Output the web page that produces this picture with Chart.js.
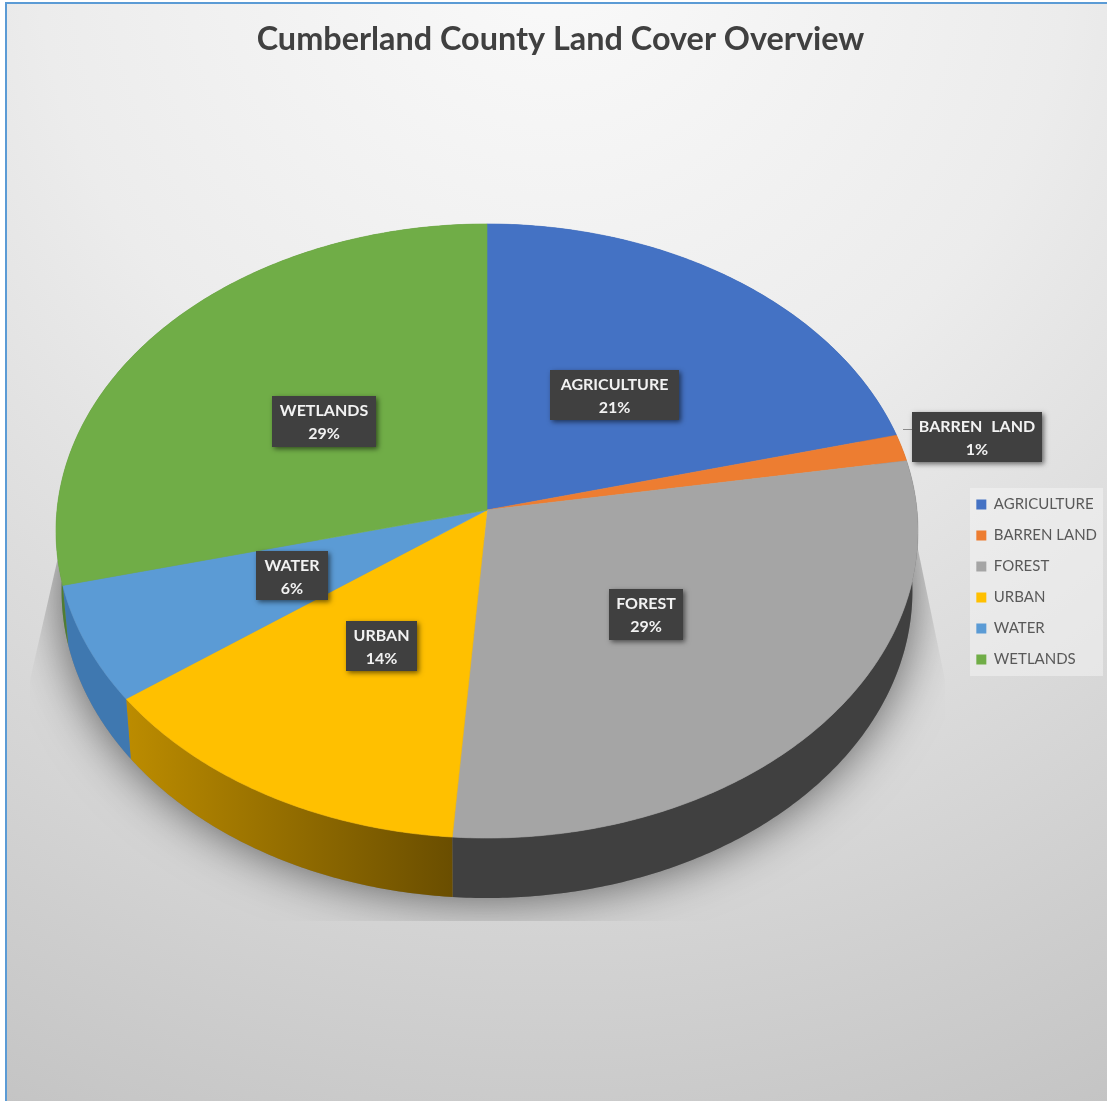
<!DOCTYPE html>
<html>
<head>
<meta charset="utf-8">
<title>Cumberland County Land Cover Overview</title>
<script src="https://cdn.jsdelivr.net/npm/chart.js@4"></script>
<style>
    html, body { margin: 0; padding: 0; background: #fff; }
    canvas { display: block; }
</style>
</head>
<body>
<canvas id="chart" width="1107" height="1101"></canvas>
<script>
const categories = ['AGRICULTURE', 'BARREN LAND', 'FOREST', 'URBAN', 'WATER', 'WETLANDS'];
const landCover = [21.0, 1.4, 28.8, 13.7, 6.2, 28.9];

const topColors = ['#4472c4', '#ed7d31', '#a5a5a5', '#ffc000', '#5b9bd5', '#70ad47'];
// side wall colours, left to right
const wallColors = [
    ['#2f5597', '#2f5597'],
    ['#a5581f', '#a5581f'],
    ['#404040', '#404040'],
    ['#bc8c00', '#6a4e00'],
    ['#3f78b0', '#3f78b0'],
    ['#4f7d33', '#4f7d33']
];

// label box left/top/width/height per category, text is filled from the data
const labelBoxes = [
    [550, 370, 129, 50],
    [912, 412, 130, 50],
    [609, 589, 74, 51],
    [346, 621, 71, 50],
    [256, 551, 72, 49],
    [272, 396, 104, 51]
];

// the pie is a tilted disc: apex, radii, perspective and thickness
const pie = { cx: 487, cy: 510, rx: 430, ry: 305.6, k: 0.0684, depth: 60, bottomScale: 0.987 };

function project(angle, isBottom) {
    const u = Math.cos(angle);
    const v = Math.sin(angle);
    const d = 1 - pie.k * v;
    if (isBottom) {
        return [pie.cx + pie.bottomScale * pie.rx * u / d, pie.cy + pie.ry * v / d + pie.depth];
    }
    return [pie.cx + pie.rx * u / d, pie.cy + pie.ry * v / d];
}

function rim(start, end) {
    const points = [];
    const steps = Math.max(2, Math.ceil((end - start) / 0.01));
    for (let i = 0; i <= steps; i++) {
        points.push(start + (end - start) * i / steps);
    }
    return points;
}

function drawShadow(ctx) {
    ctx.save();
    ctx.beginPath();
    ctx.moveTo(62, 540);
    ctx.lineTo(30, 680);
    ctx.lineTo(30, 921);
    ctx.lineTo(945, 921);
    ctx.lineTo(945, 680);
    ctx.lineTo(916, 540);
    ctx.closePath();
    ctx.clip();
    ctx.shadowColor = 'rgba(0,0,0,0.6)';
    ctx.shadowBlur = 50;
    ctx.fillStyle = '#808080';
    ctx.beginPath();
    rim(0, Math.PI * 2).forEach(a => {
        const p = project(a, true);
        ctx.lineTo(p[0], p[1]);
    });
    ctx.closePath();
    ctx.fill();
    ctx.restore();
}

function drawWall(ctx, arc, index) {
    const angles = rim(arc.startAngle, arc.endAngle);
    const xs = angles.map(a => project(a, false)[0]);
    const gradient = ctx.createLinearGradient(Math.min(...xs), 0, Math.max(...xs), 0);
    gradient.addColorStop(0, wallColors[index][0]);
    gradient.addColorStop(1, wallColors[index][1]);
    ctx.fillStyle = gradient;
    ctx.beginPath();
    angles.forEach(a => {
        const p = project(a, false);
        ctx.lineTo(p[0], p[1]);
    });
    angles.slice().reverse().forEach(a => {
        const p = project(a, true);
        ctx.lineTo(p[0], p[1]);
    });
    ctx.closePath();
    ctx.fill();
}

function drawTop(ctx, arc, index) {
    ctx.fillStyle = topColors[index];
    ctx.strokeStyle = topColors[index];
    ctx.lineWidth = 0.6;
    ctx.beginPath();
    ctx.moveTo(pie.cx, pie.cy);
    rim(arc.startAngle, arc.endAngle).forEach(a => {
        const p = project(a, false);
        ctx.lineTo(p[0], p[1]);
    });
    ctx.closePath();
    ctx.fill();
    ctx.stroke();
}

function drawLabel(ctx, index) {
    const [left, top, width, height] = labelBoxes[index];
    const total = landCover.reduce((a, b) => a + b, 0);
    const percent = Math.round(landCover[index] / total * 100) + '%';
    ctx.save();
    ctx.shadowColor = 'rgba(0,0,0,0.55)';
    ctx.shadowBlur = 5;
    ctx.shadowOffsetX = 2;
    ctx.shadowOffsetY = 2;
    ctx.fillStyle = '#404040';
    ctx.fillRect(left, top, width, height);
    ctx.restore();
    ctx.fillStyle = '#f2f2f2';
    ctx.font = 'bold 16px Lato';
    ctx.wordSpacing = '5px';
    ctx.textAlign = 'center';
    ctx.textBaseline = 'middle';
    ctx.fillText(categories[index], left + width / 2, top + 14.5);
    ctx.fillText(percent, left + width / 2, top + 37.5);
}

const backgroundPlugin = {
    id: 'background',
    // legend sits lower than the middle of the page
    afterLayout(chart) {
        chart.legend.top += 63;
    },
    beforeDraw(chart) {
        const ctx = chart.ctx;
        ctx.save();
        const gradient = ctx.createRadialGradient(553, -60, 0, 553, -60, 1290);
        gradient.addColorStop(0, '#fafafa');
        gradient.addColorStop(0.4, '#ececec');
        gradient.addColorStop(0.7, '#d8d8d8');
        gradient.addColorStop(1, '#c4c4c4');
        ctx.fillStyle = gradient;
        ctx.fillRect(5, 2, chart.width - 5, chart.height - 2);
        ctx.fillStyle = '#5b9bd5';
        ctx.fillRect(5, 2, chart.width - 5, 2);
        ctx.fillRect(5, 2, 2, chart.height - 2);
        // legend panel
        ctx.fillStyle = 'rgba(245,245,245,0.5)';
        ctx.fillRect(970, 488, 133, 188);
        ctx.restore();
    }
};

const piePlugin = {
    id: 'tiltedPie',
    beforeDatasetDraw(chart, args) {
        const ctx = chart.ctx;
        const arcs = args.meta.data;
        ctx.save();
        drawShadow(ctx);
        arcs.forEach((arc, i) => drawWall(ctx, arc, i));
        arcs.forEach((arc, i) => drawTop(ctx, arc, i));
        // leader line of the small slice
        ctx.strokeStyle = '#8c8c8c';
        ctx.lineWidth = 1;
        ctx.beginPath();
        ctx.moveTo(903, 429.5);
        ctx.lineTo(912, 429.5);
        ctx.stroke();
        arcs.forEach((arc, i) => drawLabel(ctx, i));
        ctx.restore();
        return false;
    }
};

new Chart(document.getElementById('chart'), {
    type: 'pie',
    data: {
        labels: categories,
        datasets: [{ data: landCover, backgroundColor: topColors, borderWidth: 0 }]
    },
    plugins: [backgroundPlugin, piePlugin],
    options: {
        responsive: false,
        animation: false,
        layout: { padding: { left: 14, right: 0, top: 0, bottom: 0 } },
        plugins: {
            tooltip: { enabled: false },
            title: {
                display: true,
                text: 'Cumberland County Land Cover Overview',
                color: '#404040',
                font: { family: 'Lato', size: 32.4, weight: 'bold' },
                padding: { top: 20, bottom: 20 }
            },
            legend: {
                position: 'right',
                labels: {
                    boxWidth: 10,
                    boxHeight: 10,
                    padding: 16,
                    color: '#595959',
                    font: { family: 'Lato', size: 15 }
                }
            }
        }
    }
});
</script>
</body>
</html>
